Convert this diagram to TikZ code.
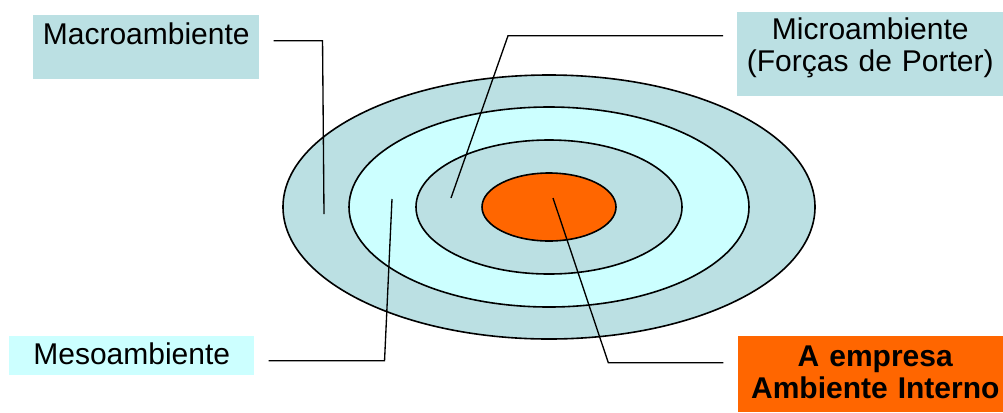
\documentclass[tikz,border=0pt]{standalone}
\usepackage{fontspec}
\setmainfont{Liberation Sans}
\usetikzlibrary{shapes.geometric, positioning}
\definecolor{ringteal}{RGB}{187,224,227}
\definecolor{ringcyan}{RGB}{204,255,255}
\definecolor{coreorange}{RGB}{255,102,0}

\begin{document}
\begin{tikzpicture}[x=0.75pt, y=-0.75pt,
  ring/.style={ellipse,draw,line width=1.2pt,inner sep=0pt},
  box/.style={rectangle,inner sep=0pt,anchor=north west,align=center,font=\fontsize{22.5}{24}\selectfont},
  lead/.style={line width=1pt}]
  \useasboundingbox (0,0) rectangle (1003,412);
  % the rings
  \node[ring,fill=ringteal,minimum width=399pt,minimum height=198pt] (outer) at (549,207) {};
  \node[ring,fill=ringcyan,minimum width=300pt,minimum height=150pt] (middle) at (549,207) {};
  \node[ring,fill=ringteal,minimum width=199.5pt,minimum height=100.5pt] (inner) at (549,207) {};
  \node[ring,fill=coreorange,minimum width=100.5pt,minimum height=51pt] (core) at (549,207) {};
  % the labels
  \node[box,fill=ringteal,text width=169.5pt,text height=21.75pt,text depth=26.25pt] (macro) at (33,15) {Macroambiente};
  \node[box,fill=ringteal,text width=199.5pt,text height=20.25pt,text depth=42.75pt] (micro) at (737,12) {Microambiente\\(Forças de Porter)};
  \node[box,fill=ringcyan,text width=183.75pt,text height=21pt,text depth=8.25pt] (meso) at (9,336) {Mesoambiente};
  \node[box,fill=coreorange,text width=205.5pt,text height=22.5pt,text depth=34.5pt,font=\fontsize{22.5}{24}\selectfont\bfseries] (empresa) at (738,336) {A empresa\\Ambiente Interno};
  % free ends inside the rings
  \coordinate (macroend) at (324,214);
  \coordinate (microend) at (451,198);
  \coordinate (mesoend) at (392,199);
  \coordinate (coreend) at (553,198);
  \draw[lead] ([xshift=10.5pt]macro.mid east) -- ++(49,0) -- (macroend);
  \draw[lead] ([xshift=-10.5pt]micro.mid west) -- ++(-215,0) -- (microend);
  \draw[lead] ([xshift=10.5pt]meso.mid east) -- ++(116,0) -- (mesoend);
  \draw[lead] ([xshift=-11pt]empresa.mid west) -- ++(-115,0) -- (coreend);
\end{tikzpicture}
\end{document}
